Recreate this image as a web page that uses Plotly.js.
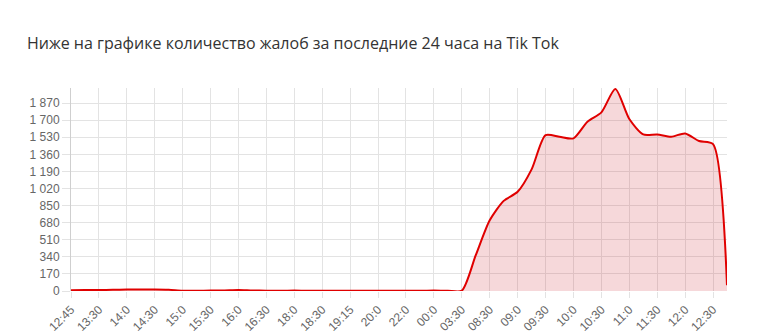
<!DOCTYPE html>
<html>
<head>
<meta charset="utf-8">
<script src="https://cdn.plot.ly/plotly-3.0.1.min.js"></script>
<style>html,body{margin:0;padding:0;background:#fff;}#chart{width:773px;height:335px;}</style>
</head>
<body>
<div id="chart"></div>
<script>
const tickLabels = ["12:45","13:30","14:0","14:30","15:0","15:30","16:0","16:30","18:0","18:30","19:15","20:0","22:0","00:0","03:30","08:30","09:0","09:30","10:0","10:30","11:0","11:30","12:0","12:30"];
const complaints = [8,10,10,12,14,15,15,12,3,3,4,6,10,5,3,3,4,3,3,3,3,3,3,3,3,3,4,3,3,
  356,704,897,987,1210,1551,1535,1519,1684,1778,2010,1711,1558,1558,1535,1568,1492,1462,57];
const yTicks = [0,170,340,510,680,850,1020,1190,1360,1530,1700,1870];

const xIdx = complaints.map((_, i) => i);
const xTickVals = tickLabels.map((_, i) => i * 2);
const yTickText = yTicks.map(v => v >= 1000 ? String(v).replace(/\B(?=(\d{3})+(?!\d))/g, ' ') : String(v));

const trace = {
  x: xIdx, y: complaints, type: 'scatter', mode: 'lines',
  line: {color: '#e00000', width: 2, shape: 'spline', smoothing: 0.7},
  fill: 'tozeroy', fillcolor: 'rgba(205,40,50,0.18)',
  hoverinfo: 'skip'
};
const layout = {
  width: 773, height: 335,
  margin: {l: 71, r: 46, t: 88, b: 44},
  paper_bgcolor: '#fff', plot_bgcolor: '#fff',
  showlegend: false,
  title: {text: 'Ниже на графике количество жалоб за последние 24 часа на Tik Tok',
    font: {family: '"Open Sans", "Noto Sans", sans-serif', size: 16, color: '#333'},
    xref: 'container', x: 27/773, xanchor: 'left', yref: 'container', y: 1 - 43/335, yanchor: 'middle'},
  xaxis: {range: [0, 47], tickvals: xTickVals, ticktext: tickLabels, tickangle: -45,
    showgrid: true, gridcolor: '#e3e3e3', zeroline: false, showline: false,
    ticks: 'outside', ticklen: 6, tickcolor: '#e3e3e3',
    tickfont: {family: 'Liberation Sans, Arial, sans-serif', size: 12, color: '#666'}},
  yaxis: {range: [0, 2020], tickvals: yTicks, ticktext: yTickText,
    showgrid: true, gridcolor: '#e3e3e3', zeroline: false, showline: true, linecolor: '#cfcfcf',
    ticks: 'outside', ticklen: 8, tickcolor: '#e3e3e3',
    tickfont: {family: 'Liberation Sans, Arial, sans-serif', size: 12, color: '#666'}}
};
Plotly.newPlot('chart', [trace], layout, {displayModeBar: false, staticPlot: true});
</script>
</body>
</html>
